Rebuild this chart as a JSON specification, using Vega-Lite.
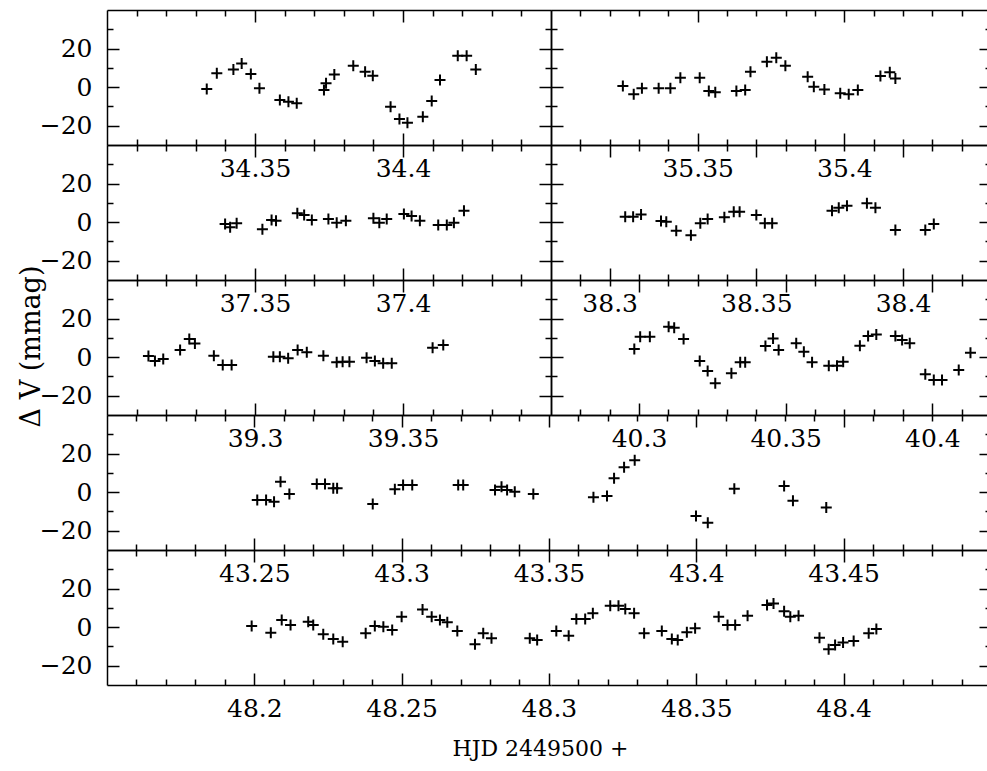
{
  "$schema": "https://vega.github.io/schema/vega-lite/v6.json",
  "autosize": {"type": "none"},
  "padding": {"left": 107, "top": 10, "right": 880, "bottom": 761},
  "background": "white",
  "columns": 2,
  "spacing": 0,
  "bounds": "flush",
  "datasets": {
    "n34": [{"hjd":34.3337,"dv":-1.0},{"hjd":34.3371,"dv":7.2},{"hjd":34.3427,"dv":9.2},{"hjd":34.3455,"dv":12.3},{"hjd":34.3486,"dv":6.8},{"hjd":34.3515,"dv":-0.6},{"hjd":34.3584,"dv":-6.7},{"hjd":34.3613,"dv":-7.6},{"hjd":34.3641,"dv":-8.4},{"hjd":34.3733,"dv":-1.5},{"hjd":34.374,"dv":2.0},{"hjd":34.3768,"dv":6.6},{"hjd":34.3832,"dv":11.1},{"hjd":34.3872,"dv":8.0},{"hjd":34.3898,"dv":5.9},{"hjd":34.3958,"dv":-10.2},{"hjd":34.3988,"dv":-16.5},{"hjd":34.4015,"dv":-18.5},{"hjd":34.4067,"dv":-15.3},{"hjd":34.4097,"dv":-7.2},{"hjd":34.4125,"dv":3.7},{"hjd":34.4185,"dv":16.3},{"hjd":34.4215,"dv":16.3},{"hjd":34.4246,"dv":9.2}],
    "n35": [{"hjd":35.3245,"dv":0.6},{"hjd":35.3282,"dv":-3.7},{"hjd":35.331,"dv":-0.6},{"hjd":35.3367,"dv":-0.6},{"hjd":35.3407,"dv":-0.6},{"hjd":35.3441,"dv":4.9},{"hjd":35.3507,"dv":4.9},{"hjd":35.3538,"dv":-2.0},{"hjd":35.356,"dv":-2.7},{"hjd":35.3632,"dv":-2.0},{"hjd":35.3662,"dv":-1.5},{"hjd":35.368,"dv":8.0},{"hjd":35.3736,"dv":13.2},{"hjd":35.3768,"dv":15.2},{"hjd":35.3799,"dv":11.1},{"hjd":35.3875,"dv":5.4},{"hjd":35.3896,"dv":0.2},{"hjd":35.3932,"dv":-1.2},{"hjd":35.3986,"dv":-3.2},{"hjd":35.4015,"dv":-3.7},{"hjd":35.4046,"dv":-1.5},{"hjd":35.4123,"dv":5.8},{"hjd":35.4155,"dv":7.7},{"hjd":35.4174,"dv":4.5}],
    "n37": [{"hjd":37.3399,"dv":-1.0},{"hjd":37.3416,"dv":-2.7},{"hjd":37.3438,"dv":-0.6},{"hjd":37.3525,"dv":-3.7},{"hjd":37.3556,"dv":1.1},{"hjd":37.3571,"dv":0.7},{"hjd":37.3643,"dv":4.6},{"hjd":37.3666,"dv":3.7},{"hjd":37.3692,"dv":1.1},{"hjd":37.3748,"dv":1.6},{"hjd":37.3776,"dv":-0.3},{"hjd":37.3807,"dv":0.7},{"hjd":37.39,"dv":2.0},{"hjd":37.392,"dv":-0.3},{"hjd":37.3945,"dv":1.6},{"hjd":37.4003,"dv":4.2},{"hjd":37.4029,"dv":3.2},{"hjd":37.4057,"dv":0.7},{"hjd":37.4119,"dv":-1.5},{"hjd":37.4148,"dv":-1.5},{"hjd":37.4172,"dv":-0.3},{"hjd":37.4206,"dv":5.9}],
    "n38": [{"hjd":38.3053,"dv":2.8},{"hjd":38.308,"dv":2.8},{"hjd":38.3107,"dv":4.0},{"hjd":38.3175,"dv":0.6},{"hjd":38.3193,"dv":0.2},{"hjd":38.3227,"dv":-4.5},{"hjd":38.3277,"dv":-6.8},{"hjd":38.3309,"dv":-0.6},{"hjd":38.3334,"dv":1.6},{"hjd":38.3391,"dv":2.5},{"hjd":38.3423,"dv":5.4},{"hjd":38.3443,"dv":5.4},{"hjd":38.35,"dv":3.7},{"hjd":38.3529,"dv":-0.6},{"hjd":38.3554,"dv":-0.6},{"hjd":38.3758,"dv":5.9},{"hjd":38.3781,"dv":7.5},{"hjd":38.3809,"dv":8.5},{"hjd":38.3877,"dv":9.8},{"hjd":38.3906,"dv":7.5},{"hjd":38.3974,"dv":-4.1},{"hjd":38.4076,"dv":-4.1},{"hjd":38.4105,"dv":-1.0}],
    "n39": [{"hjd":39.264,"dv":0.6},{"hjd":39.2662,"dv":-2.0},{"hjd":39.269,"dv":-1.0},{"hjd":39.2747,"dv":3.7},{"hjd":39.2778,"dv":9.4},{"hjd":39.2797,"dv":7.1},{"hjd":39.2861,"dv":0.7},{"hjd":39.2891,"dv":-4.1},{"hjd":39.2921,"dv":-4.1},{"hjd":39.3062,"dv":0.2},{"hjd":39.3084,"dv":0.2},{"hjd":39.3112,"dv":-0.6},{"hjd":39.3144,"dv":3.7},{"hjd":39.3175,"dv":2.5},{"hjd":39.3231,"dv":0.7},{"hjd":39.3276,"dv":-2.7},{"hjd":39.3296,"dv":-2.4},{"hjd":39.3319,"dv":-2.4},{"hjd":39.3377,"dv":-0.3},{"hjd":39.3405,"dv":-2.0},{"hjd":39.3433,"dv":-3.2},{"hjd":39.3462,"dv":-3.2},{"hjd":39.36,"dv":4.9},{"hjd":39.3636,"dv":6.3}],
    "n40": [{"hjd":40.2984,"dv":4.2},{"hjd":40.3004,"dv":10.6},{"hjd":40.3037,"dv":10.6},{"hjd":40.3101,"dv":15.8},{"hjd":40.312,"dv":15.2},{"hjd":40.3152,"dv":9.4},{"hjd":40.3207,"dv":-2.0},{"hjd":40.3234,"dv":-7.2},{"hjd":40.326,"dv":-13.6},{"hjd":40.3315,"dv":-8.4},{"hjd":40.3345,"dv":-2.7},{"hjd":40.3362,"dv":-2.7},{"hjd":40.3431,"dv":5.8},{"hjd":40.3457,"dv":9.7},{"hjd":40.3476,"dv":3.7},{"hjd":40.3536,"dv":7.2},{"hjd":40.3562,"dv":2.8},{"hjd":40.359,"dv":-2.7},{"hjd":40.3647,"dv":-4.5},{"hjd":40.3675,"dv":-4.5},{"hjd":40.3696,"dv":-2.4},{"hjd":40.3753,"dv":5.9},{"hjd":40.3781,"dv":10.9},{"hjd":40.3809,"dv":11.8},{"hjd":40.3874,"dv":10.9},{"hjd":40.3897,"dv":8.9},{"hjd":40.3923,"dv":7.2},{"hjd":40.3976,"dv":-8.9},{"hjd":40.4005,"dv":-11.9},{"hjd":40.4033,"dv":-11.9},{"hjd":40.409,"dv":-6.7},{"hjd":40.413,"dv":2.3}],
    "n43": [{"hjd":43.251,"dv":-4.1},{"hjd":43.254,"dv":-4.1},{"hjd":43.2567,"dv":-5.0},{"hjd":43.2589,"dv":5.4},{"hjd":43.2619,"dv":-1.0},{"hjd":43.2712,"dv":4.2},{"hjd":43.274,"dv":4.2},{"hjd":43.2768,"dv":2.0},{"hjd":43.2781,"dv":2.0},{"hjd":43.2902,"dv":-6.2},{"hjd":43.2977,"dv":1.5},{"hjd":43.3005,"dv":3.7},{"hjd":43.3036,"dv":3.7},{"hjd":43.3192,"dv":3.7},{"hjd":43.3209,"dv":3.7},{"hjd":43.3317,"dv":1.1},{"hjd":43.3339,"dv":2.8},{"hjd":43.3358,"dv":1.1},{"hjd":43.3384,"dv":0.2},{"hjd":43.3447,"dv":-1.0},{"hjd":43.3651,"dv":-2.7},{"hjd":43.3697,"dv":-2.0},{"hjd":43.3721,"dv":7.2},{"hjd":43.3755,"dv":12.9},{"hjd":43.3791,"dv":16.6},{"hjd":43.3999,"dv":-12.4},{"hjd":43.4039,"dv":-15.9},{"hjd":43.4129,"dv":1.8},{"hjd":43.4298,"dv":3.2},{"hjd":43.4328,"dv":-4.5},{"hjd":43.4441,"dv":-7.9}],
    "n48": [{"hjd":48.1991,"dv":0.6},{"hjd":48.2056,"dv":-2.9},{"hjd":48.2093,"dv":3.7},{"hjd":48.2123,"dv":1.1},{"hjd":48.2183,"dv":2.8},{"hjd":48.22,"dv":1.1},{"hjd":48.2234,"dv":-3.7},{"hjd":48.2268,"dv":-6.2},{"hjd":48.23,"dv":-7.6},{"hjd":48.2378,"dv":-3.2},{"hjd":48.2409,"dv":0.6},{"hjd":48.2438,"dv":0.2},{"hjd":48.2468,"dv":-1.5},{"hjd":48.25,"dv":5.4},{"hjd":48.2571,"dv":9.2},{"hjd":48.2602,"dv":5.4},{"hjd":48.263,"dv":3.7},{"hjd":48.2655,"dv":2.5},{"hjd":48.2689,"dv":-2.0},{"hjd":48.2749,"dv":-8.9},{"hjd":48.2777,"dv":-3.2},{"hjd":48.2805,"dv":-5.8},{"hjd":48.2935,"dv":-5.8},{"hjd":48.296,"dv":-6.7},{"hjd":48.3025,"dv":-2.0},{"hjd":48.3067,"dv":-4.5},{"hjd":48.3093,"dv":4.2},{"hjd":48.3123,"dv":4.2},{"hjd":48.3149,"dv":7.2},{"hjd":48.3208,"dv":11.1},{"hjd":48.3236,"dv":11.1},{"hjd":48.3259,"dv":9.4},{"hjd":48.3289,"dv":7.2},{"hjd":48.3323,"dv":-3.2},{"hjd":48.3383,"dv":-2.0},{"hjd":48.3417,"dv":-6.2},{"hjd":48.3437,"dv":-6.7},{"hjd":48.3468,"dv":-2.7},{"hjd":48.3496,"dv":-0.6},{"hjd":48.3576,"dv":5.4},{"hjd":48.3606,"dv":1.1},{"hjd":48.3632,"dv":1.1},{"hjd":48.3674,"dv":5.9},{"hjd":48.374,"dv":11.5},{"hjd":48.3762,"dv":12.3},{"hjd":48.3798,"dv":8.3},{"hjd":48.3819,"dv":5.4},{"hjd":48.3847,"dv":5.9},{"hjd":48.3918,"dv":-5.5},{"hjd":48.3949,"dv":-11.4},{"hjd":48.3971,"dv":-9.3},{"hjd":48.3998,"dv":-7.9},{"hjd":48.4034,"dv":-7.2},{"hjd":48.4085,"dv":-3.2},{"hjd":48.4111,"dv":-1.0}]
  },
  "concat": [
    {
      "width": 444, "height": 135, "data": {"name": "n34"},
      "layer": [
        {"mark": {"type": "point", "shape": "M-1,0L1,0M0,-1L0,1", "size": 121, "filled": false, "stroke": "black", "strokeWidth": 2, "opacity": 1},
         "encoding": {
           "x": {"field": "hjd", "type": "quantitative", "scale": {"domain": [34.30, 34.45], "nice": false, "zero": false},
                 "axis": {"orient": "bottom", "values": [34.31,34.32,34.33,34.34,34.35,34.36,34.37,34.38,34.39,34.4,34.41,34.42,34.43,34.44], "tickSize": {"condition": {"test": "abs(datum.value*20-round(datum.value*20))<1e-6", "value": -12}, "value": -6}, "labelPadding": 23, "labelExpr": "abs(datum.value*20-round(datum.value*20))<1e-6 ? format(datum.value,'.2~f') : ''", "title": null}},
           "y": {"field": "dv", "type": "quantitative", "scale": {"domain": [-30, 40], "nice": false, "zero": false},
                 "axis": {"orient": "left", "values": [-20,-10,0,10,20,30], "tickSize": {"condition": {"test": "datum.value % 20 == 0", "value": -12}, "value": -6}, "labelPadding": 27, "labelExpr": "datum.value % 20 == 0 ? format(datum.value,'d') : ''", "title": null}}
         }},
        {"mark": {"type": "point", "opacity": 0},
         "encoding": {
           "x": {"field": "hjd", "type": "quantitative", "scale": {"domain": [34.30, 34.45], "nice": false, "zero": false},
                 "axis": {"orient": "top", "values": [34.31,34.32,34.33,34.34,34.35,34.36,34.37,34.38,34.39,34.4,34.41,34.42,34.43,34.44], "tickSize": {"condition": {"test": "abs(datum.value*20-round(datum.value*20))<1e-6", "value": -12}, "value": -6}, "labels": false, "title": null}},
           "y": {"field": "dv", "type": "quantitative", "scale": {"domain": [-30, 40], "nice": false, "zero": false},
                 "axis": {"orient": "right", "values": [-20,-10,0,10,20,30], "tickSize": {"condition": {"test": "datum.value % 20 == 0", "value": -12}, "value": -6}, "labels": false, "title": null}}
         }}
      ],
      "resolve": {"axis": {"x": "independent", "y": "independent"}}
    },
    {
      "width": 440, "height": 135, "data": {"name": "n35"},
      "layer": [
        {"mark": {"type": "point", "shape": "M-1,0L1,0M0,-1L0,1", "size": 121, "filled": false, "stroke": "black", "strokeWidth": 2, "opacity": 1},
         "encoding": {
           "x": {"field": "hjd", "type": "quantitative", "scale": {"domain": [35.30, 35.45], "nice": false, "zero": false},
                 "axis": {"orient": "bottom", "values": [35.31,35.32,35.33,35.34,35.35,35.36,35.37,35.38,35.39,35.4,35.41,35.42,35.43,35.44], "tickSize": {"condition": {"test": "abs(datum.value*20-round(datum.value*20))<1e-6", "value": -12}, "value": -6}, "labelPadding": 23, "labelExpr": "abs(datum.value*20-round(datum.value*20))<1e-6 ? format(datum.value,'.2~f') : ''", "title": null}},
           "y": {"field": "dv", "type": "quantitative", "scale": {"domain": [-30, 40], "nice": false, "zero": false},
                 "axis": {"orient": "left", "values": [-20,-10,0,10,20,30], "tickSize": {"condition": {"test": "datum.value % 20 == 0", "value": -12}, "value": -6}, "labels": false, "title": null}}
         }},
        {"mark": {"type": "point", "opacity": 0},
         "encoding": {
           "x": {"field": "hjd", "type": "quantitative", "scale": {"domain": [35.30, 35.45], "nice": false, "zero": false},
                 "axis": {"orient": "top", "values": [35.31,35.32,35.33,35.34,35.35,35.36,35.37,35.38,35.39,35.4,35.41,35.42,35.43,35.44], "tickSize": {"condition": {"test": "abs(datum.value*20-round(datum.value*20))<1e-6", "value": -12}, "value": -6}, "labels": false, "title": null}},
           "y": {"field": "dv", "type": "quantitative", "scale": {"domain": [-30, 40], "nice": false, "zero": false},
                 "axis": {"orient": "right", "values": [-20,-10,0,10,20,30], "tickSize": {"condition": {"test": "datum.value % 20 == 0", "value": -12}, "value": -6}, "labels": false, "title": null}}
         }}
      ],
      "resolve": {"axis": {"x": "independent", "y": "independent"}}
    },
    {
      "width": 444, "height": 135, "data": {"name": "n37"},
      "layer": [
        {"mark": {"type": "point", "shape": "M-1,0L1,0M0,-1L0,1", "size": 121, "filled": false, "stroke": "black", "strokeWidth": 2, "opacity": 1},
         "encoding": {
           "x": {"field": "hjd", "type": "quantitative", "scale": {"domain": [37.30, 37.45], "nice": false, "zero": false},
                 "axis": {"orient": "bottom", "values": [37.31,37.32,37.33,37.34,37.35,37.36,37.37,37.38,37.39,37.4,37.41,37.42,37.43,37.44], "tickSize": {"condition": {"test": "abs(datum.value*20-round(datum.value*20))<1e-6", "value": -12}, "value": -6}, "labelPadding": 23, "labelExpr": "abs(datum.value*20-round(datum.value*20))<1e-6 ? format(datum.value,'.2~f') : ''", "title": null}},
           "y": {"field": "dv", "type": "quantitative", "scale": {"domain": [-30, 40], "nice": false, "zero": false},
                 "axis": {"orient": "left", "values": [-20,-10,0,10,20,30], "tickSize": {"condition": {"test": "datum.value % 20 == 0", "value": -12}, "value": -6}, "labelPadding": 27, "labelExpr": "datum.value % 20 == 0 ? format(datum.value,'d') : ''", "title": null}}
         }},
        {"mark": {"type": "point", "opacity": 0},
         "encoding": {
           "x": {"field": "hjd", "type": "quantitative", "scale": {"domain": [37.30, 37.45], "nice": false, "zero": false},
                 "axis": {"orient": "top", "values": [37.31,37.32,37.33,37.34,37.35,37.36,37.37,37.38,37.39,37.4,37.41,37.42,37.43,37.44], "tickSize": {"condition": {"test": "abs(datum.value*20-round(datum.value*20))<1e-6", "value": -12}, "value": -6}, "labels": false, "title": null}},
           "y": {"field": "dv", "type": "quantitative", "scale": {"domain": [-30, 40], "nice": false, "zero": false},
                 "axis": {"orient": "right", "values": [-20,-10,0,10,20,30], "tickSize": {"condition": {"test": "datum.value % 20 == 0", "value": -12}, "value": -6}, "labels": false, "title": null}}
         }}
      ],
      "resolve": {"axis": {"x": "independent", "y": "independent"}}
    },
    {
      "width": 440, "height": 135, "data": {"name": "n38"},
      "layer": [
        {"mark": {"type": "point", "shape": "M-1,0L1,0M0,-1L0,1", "size": 121, "filled": false, "stroke": "black", "strokeWidth": 2, "opacity": 1},
         "encoding": {
           "x": {"field": "hjd", "type": "quantitative", "scale": {"domain": [38.28, 38.43], "nice": false, "zero": false},
                 "axis": {"orient": "bottom", "values": [38.29,38.3,38.31,38.32,38.33,38.34,38.35,38.36,38.37,38.38,38.39,38.4,38.41,38.42], "tickSize": {"condition": {"test": "abs(datum.value*20-round(datum.value*20))<1e-6", "value": -12}, "value": -6}, "labelPadding": 23, "labelExpr": "abs(datum.value*20-round(datum.value*20))<1e-6 ? format(datum.value,'.2~f') : ''", "title": null}},
           "y": {"field": "dv", "type": "quantitative", "scale": {"domain": [-30, 40], "nice": false, "zero": false},
                 "axis": {"orient": "left", "values": [-20,-10,0,10,20,30], "tickSize": {"condition": {"test": "datum.value % 20 == 0", "value": -12}, "value": -6}, "labels": false, "title": null}}
         }},
        {"mark": {"type": "point", "opacity": 0},
         "encoding": {
           "x": {"field": "hjd", "type": "quantitative", "scale": {"domain": [38.28, 38.43], "nice": false, "zero": false},
                 "axis": {"orient": "top", "values": [38.29,38.3,38.31,38.32,38.33,38.34,38.35,38.36,38.37,38.38,38.39,38.4,38.41,38.42], "tickSize": {"condition": {"test": "abs(datum.value*20-round(datum.value*20))<1e-6", "value": -12}, "value": -6}, "labels": false, "title": null}},
           "y": {"field": "dv", "type": "quantitative", "scale": {"domain": [-30, 40], "nice": false, "zero": false},
                 "axis": {"orient": "right", "values": [-20,-10,0,10,20,30], "tickSize": {"condition": {"test": "datum.value % 20 == 0", "value": -12}, "value": -6}, "labels": false, "title": null}}
         }}
      ],
      "resolve": {"axis": {"x": "independent", "y": "independent"}}
    },
    {
      "width": 444, "height": 135, "data": {"name": "n39"},
      "layer": [
        {"mark": {"type": "point", "shape": "M-1,0L1,0M0,-1L0,1", "size": 121, "filled": false, "stroke": "black", "strokeWidth": 2, "opacity": 1},
         "encoding": {
           "x": {"field": "hjd", "type": "quantitative", "scale": {"domain": [39.25, 39.40], "nice": false, "zero": false},
                 "axis": {"orient": "bottom", "values": [39.26,39.27,39.28,39.29,39.3,39.31,39.32,39.33,39.34,39.35,39.36,39.37,39.38,39.39], "tickSize": {"condition": {"test": "abs(datum.value*20-round(datum.value*20))<1e-6", "value": -12}, "value": -6}, "labelPadding": 23, "labelExpr": "abs(datum.value*20-round(datum.value*20))<1e-6 ? format(datum.value,'.2~f') : ''", "title": null}},
           "y": {"field": "dv", "type": "quantitative", "scale": {"domain": [-30, 40], "nice": false, "zero": false},
                 "axis": {"orient": "left", "values": [-20,-10,0,10,20,30], "tickSize": {"condition": {"test": "datum.value % 20 == 0", "value": -12}, "value": -6}, "labelPadding": 27, "labelExpr": "datum.value % 20 == 0 ? format(datum.value,'d') : ''", "title": "Δ V (mmag)", "titleX": -76, "titleY": 66, "titleAngle": -90, "titleAlign": "center", "titleBaseline": "middle", "titleFontSize": 27}}
         }},
        {"mark": {"type": "point", "opacity": 0},
         "encoding": {
           "x": {"field": "hjd", "type": "quantitative", "scale": {"domain": [39.25, 39.40], "nice": false, "zero": false},
                 "axis": {"orient": "top", "values": [39.26,39.27,39.28,39.29,39.3,39.31,39.32,39.33,39.34,39.35,39.36,39.37,39.38,39.39], "tickSize": {"condition": {"test": "abs(datum.value*20-round(datum.value*20))<1e-6", "value": -12}, "value": -6}, "labels": false, "title": null}},
           "y": {"field": "dv", "type": "quantitative", "scale": {"domain": [-30, 40], "nice": false, "zero": false},
                 "axis": {"orient": "right", "values": [-20,-10,0,10,20,30], "tickSize": {"condition": {"test": "datum.value % 20 == 0", "value": -12}, "value": -6}, "labels": false, "title": null}}
         }}
      ],
      "resolve": {"axis": {"x": "independent", "y": "independent"}}
    },
    {
      "width": 440, "height": 135, "data": {"name": "n40"},
      "layer": [
        {"mark": {"type": "point", "shape": "M-1,0L1,0M0,-1L0,1", "size": 121, "filled": false, "stroke": "black", "strokeWidth": 2, "opacity": 1},
         "encoding": {
           "x": {"field": "hjd", "type": "quantitative", "scale": {"domain": [40.27, 40.42], "nice": false, "zero": false},
                 "axis": {"orient": "bottom", "values": [40.28,40.29,40.3,40.31,40.32,40.33,40.34,40.35,40.36,40.37,40.38,40.39,40.4,40.41], "tickSize": {"condition": {"test": "abs(datum.value*20-round(datum.value*20))<1e-6", "value": -12}, "value": -6}, "labelPadding": 23, "labelExpr": "abs(datum.value*20-round(datum.value*20))<1e-6 ? format(datum.value,'.2~f') : ''", "title": null}},
           "y": {"field": "dv", "type": "quantitative", "scale": {"domain": [-30, 40], "nice": false, "zero": false},
                 "axis": {"orient": "left", "values": [-20,-10,0,10,20,30], "tickSize": {"condition": {"test": "datum.value % 20 == 0", "value": -12}, "value": -6}, "labels": false, "title": null}}
         }},
        {"mark": {"type": "point", "opacity": 0},
         "encoding": {
           "x": {"field": "hjd", "type": "quantitative", "scale": {"domain": [40.27, 40.42], "nice": false, "zero": false},
                 "axis": {"orient": "top", "values": [40.28,40.29,40.3,40.31,40.32,40.33,40.34,40.35,40.36,40.37,40.38,40.39,40.4,40.41], "tickSize": {"condition": {"test": "abs(datum.value*20-round(datum.value*20))<1e-6", "value": -12}, "value": -6}, "labels": false, "title": null}},
           "y": {"field": "dv", "type": "quantitative", "scale": {"domain": [-30, 40], "nice": false, "zero": false},
                 "axis": {"orient": "right", "values": [-20,-10,0,10,20,30], "tickSize": {"condition": {"test": "datum.value % 20 == 0", "value": -12}, "value": -6}, "labels": false, "title": null}}
         }}
      ],
      "resolve": {"axis": {"x": "independent", "y": "independent"}}
    },
    {
      "width": 444, "height": 135, "data": {"name": "n43"},
      "transform": [{"filter": "datum.hjd < 43.3507"}],
      "layer": [
        {"mark": {"type": "point", "shape": "M-1,0L1,0M0,-1L0,1", "size": 121, "filled": false, "stroke": "black", "strokeWidth": 2, "opacity": 1},
         "encoding": {
           "x": {"field": "hjd", "type": "quantitative", "scale": {"domain": [43.20, 43.3507], "nice": false, "zero": false},
                 "axis": {"orient": "bottom", "values": [43.21,43.22,43.23,43.24,43.25,43.26,43.27,43.28,43.29,43.3,43.31,43.32,43.33,43.34,43.35], "tickSize": {"condition": {"test": "abs(datum.value*20-round(datum.value*20))<1e-6", "value": -12}, "value": -6}, "labelPadding": 23, "labelExpr": "abs(datum.value*20-round(datum.value*20))<1e-6 ? format(datum.value,'.2~f') : ''", "title": null}},
           "y": {"field": "dv", "type": "quantitative", "scale": {"domain": [-30, 40], "nice": false, "zero": false},
                 "axis": {"orient": "left", "values": [-20,-10,0,10,20,30], "tickSize": {"condition": {"test": "datum.value % 20 == 0", "value": -12}, "value": -6}, "labelPadding": 27, "labelExpr": "datum.value % 20 == 0 ? format(datum.value,'d') : ''", "title": null}}
         }},
        {"mark": {"type": "point", "opacity": 0},
         "encoding": {
           "x": {"field": "hjd", "type": "quantitative", "scale": {"domain": [43.20, 43.3507], "nice": false, "zero": false},
                 "axis": {"orient": "top", "values": [43.21,43.22,43.23,43.24,43.25,43.26,43.27,43.28,43.29,43.3,43.31,43.32,43.33,43.34,43.35], "tickSize": {"condition": {"test": "abs(datum.value*20-round(datum.value*20))<1e-6", "value": -12}, "value": -6}, "labels": false, "title": null}},
           "y": {"field": "dv", "type": "quantitative", "scale": {"domain": [-30, 40], "nice": false, "zero": false}, "axis": null}
         }}
      ],
      "resolve": {"axis": {"x": "independent", "y": "independent"}}
    },
    {
      "width": 440, "height": 135, "data": {"name": "n43"},
      "transform": [{"filter": "datum.hjd >= 43.3507"}],
      "layer": [
        {"mark": {"type": "point", "shape": "M-1,0L1,0M0,-1L0,1", "size": 121, "filled": false, "stroke": "black", "strokeWidth": 2, "opacity": 1},
         "encoding": {
           "x": {"field": "hjd", "type": "quantitative", "scale": {"domain": [43.3507, 43.50], "nice": false, "zero": false},
                 "axis": {"orient": "bottom", "values": [43.36,43.37,43.38,43.39,43.4,43.41,43.42,43.43,43.44,43.45,43.46,43.47,43.48,43.49], "tickSize": {"condition": {"test": "abs(datum.value*20-round(datum.value*20))<1e-6", "value": -12}, "value": -6}, "labelPadding": 23, "labelExpr": "abs(datum.value*20-round(datum.value*20))<1e-6 ? format(datum.value,'.2~f') : ''", "title": null}},
           "y": {"field": "dv", "type": "quantitative", "scale": {"domain": [-30, 40], "nice": false, "zero": false}, "axis": null}
         }},
        {"mark": {"type": "point", "opacity": 0},
         "encoding": {
           "x": {"field": "hjd", "type": "quantitative", "scale": {"domain": [43.3507, 43.50], "nice": false, "zero": false},
                 "axis": {"orient": "top", "values": [43.36,43.37,43.38,43.39,43.4,43.41,43.42,43.43,43.44,43.45,43.46,43.47,43.48,43.49], "tickSize": {"condition": {"test": "abs(datum.value*20-round(datum.value*20))<1e-6", "value": -12}, "value": -6}, "labels": false, "title": null}},
           "y": {"field": "dv", "type": "quantitative", "scale": {"domain": [-30, 40], "nice": false, "zero": false},
                 "axis": {"orient": "right", "values": [-20,-10,0,10,20,30], "tickSize": {"condition": {"test": "datum.value % 20 == 0", "value": -12}, "value": -6}, "labels": false, "title": null}}
         }}
      ],
      "resolve": {"axis": {"x": "independent", "y": "independent"}}
    },
    {
      "width": 444, "height": 135, "data": {"name": "n48"},
      "transform": [{"filter": "datum.hjd < 48.3007"}],
      "layer": [
        {"mark": {"type": "point", "shape": "M-1,0L1,0M0,-1L0,1", "size": 121, "filled": false, "stroke": "black", "strokeWidth": 2, "opacity": 1},
         "encoding": {
           "x": {"field": "hjd", "type": "quantitative", "scale": {"domain": [48.15, 48.3007], "nice": false, "zero": false},
                 "axis": {"orient": "bottom", "values": [48.16,48.17,48.18,48.19,48.2,48.21,48.22,48.23,48.24,48.25,48.26,48.27,48.28,48.29,48.3], "tickSize": {"condition": {"test": "abs(datum.value*20-round(datum.value*20))<1e-6", "value": -12}, "value": -6}, "labelPadding": 23, "labelExpr": "abs(datum.value*20-round(datum.value*20))<1e-6 ? format(datum.value,'.2~f') : ''", "title": "HJD 2449500 +", "titleX": 433, "titleY": 70, "titleAlign": "center", "titleBaseline": "alphabetic", "titleAngle": 0, "titleFontSize": 22}},
           "y": {"field": "dv", "type": "quantitative", "scale": {"domain": [-30, 40], "nice": false, "zero": false},
                 "axis": {"orient": "left", "values": [-20,-10,0,10,20,30], "tickSize": {"condition": {"test": "datum.value % 20 == 0", "value": -12}, "value": -6}, "labelPadding": 27, "labelExpr": "datum.value % 20 == 0 ? format(datum.value,'d') : ''", "title": null}}
         }},
        {"mark": {"type": "point", "opacity": 0},
         "encoding": {
           "x": {"field": "hjd", "type": "quantitative", "scale": {"domain": [48.15, 48.3007], "nice": false, "zero": false},
                 "axis": {"orient": "top", "values": [48.16,48.17,48.18,48.19,48.2,48.21,48.22,48.23,48.24,48.25,48.26,48.27,48.28,48.29,48.3], "tickSize": {"condition": {"test": "abs(datum.value*20-round(datum.value*20))<1e-6", "value": -12}, "value": -6}, "labels": false, "title": null}},
           "y": {"field": "dv", "type": "quantitative", "scale": {"domain": [-30, 40], "nice": false, "zero": false}, "axis": null}
         }}
      ],
      "resolve": {"axis": {"x": "independent", "y": "independent"}}
    },
    {
      "width": 440, "height": 135, "data": {"name": "n48"},
      "transform": [{"filter": "datum.hjd >= 48.3007"}],
      "layer": [
        {"mark": {"type": "point", "shape": "M-1,0L1,0M0,-1L0,1", "size": 121, "filled": false, "stroke": "black", "strokeWidth": 2, "opacity": 1},
         "encoding": {
           "x": {"field": "hjd", "type": "quantitative", "scale": {"domain": [48.3007, 48.45], "nice": false, "zero": false},
                 "axis": {"orient": "bottom", "values": [48.31,48.32,48.33,48.34,48.35,48.36,48.37,48.38,48.39,48.4,48.41,48.42,48.43,48.44], "tickSize": {"condition": {"test": "abs(datum.value*20-round(datum.value*20))<1e-6", "value": -12}, "value": -6}, "labelPadding": 23, "labelExpr": "abs(datum.value*20-round(datum.value*20))<1e-6 ? format(datum.value,'.2~f') : ''", "title": null}},
           "y": {"field": "dv", "type": "quantitative", "scale": {"domain": [-30, 40], "nice": false, "zero": false}, "axis": null}
         }},
        {"mark": {"type": "point", "opacity": 0},
         "encoding": {
           "x": {"field": "hjd", "type": "quantitative", "scale": {"domain": [48.3007, 48.45], "nice": false, "zero": false},
                 "axis": {"orient": "top", "values": [48.31,48.32,48.33,48.34,48.35,48.36,48.37,48.38,48.39,48.4,48.41,48.42,48.43,48.44], "tickSize": {"condition": {"test": "abs(datum.value*20-round(datum.value*20))<1e-6", "value": -12}, "value": -6}, "labels": false, "title": null}},
           "y": {"field": "dv", "type": "quantitative", "scale": {"domain": [-30, 40], "nice": false, "zero": false},
                 "axis": {"orient": "right", "values": [-20,-10,0,10,20,30], "tickSize": {"condition": {"test": "datum.value % 20 == 0", "value": -12}, "value": -6}, "labels": false, "title": null}}
         }}
      ],
      "resolve": {"axis": {"x": "independent", "y": "independent"}}
    }
  ],
  "config": {
    "view": {"stroke": null},
    "axis": {
      "domainColor": "black", "domainWidth": 1.5,
      "tickColor": "black", "tickWidth": 1.5,
      "labelColor": "black", "labelFont": "DejaVu Serif", "labelFontSize": 25,
      "grid": false, "labelOverlap": false, "labelFlush": false,
      "titleFont": "DejaVu Serif", "titleFontWeight": "normal", "titleColor": "black"
    }
  }
}
